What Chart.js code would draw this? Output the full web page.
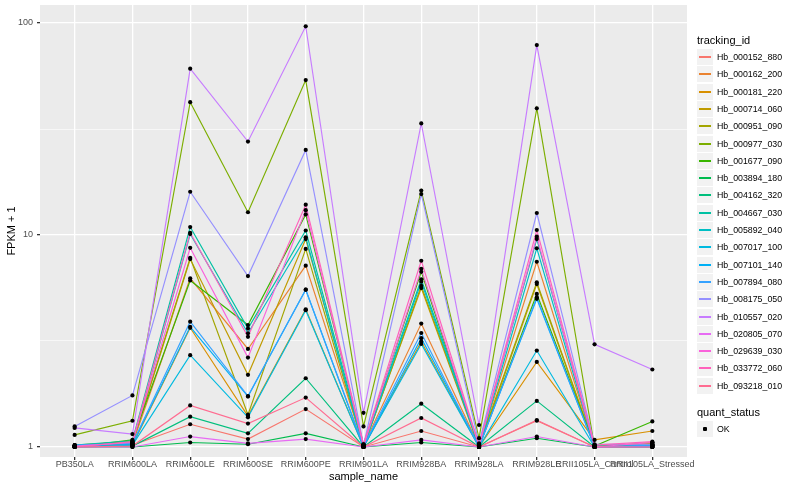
<!DOCTYPE html>
<html>
<head>
<meta charset="utf-8">
<script src="https://cdn.jsdelivr.net/npm/chart.js@4.4.0/dist/chart.umd.min.js"></script>
<style>
body { margin: 0; background: #fff; font-family: "Liberation Sans", Arial, sans-serif; }
#wrap { position: relative; width: 800px; height: 500px; }
#legend { position: absolute; left: 697px; top: 0; width: 103px; height: 500px; color: #000; }
#legend .lt { position: absolute; left: 0; height: 18px; line-height: 18px; font-size: 11px; }
#legend .row { position: absolute; left: 0; height: 17px; line-height: 17px; font-size: 8.8px; white-space: nowrap; }
#legend .key { display: inline-block; width: 16px; height: 16px; background: #F2F2F2; vertical-align: top; margin: 0 4px 0 0; position: relative; }
#legend .key i { position: absolute; left: 2px; width: 12px; top: 7px; height: 2px; }
#legend .key b { position: absolute; left: 6px; top: 6px; width: 4px; height: 4px; background: #000; border-radius: 1px; }
</style>
</head>
<body>
<div id="wrap">
  <canvas id="myChart" width="800" height="500"></canvas>
  <div id="legend"></div>
</div>
<script>
var samples = ['PB350LA', 'RRIM600LA', 'RRIM600LE', 'RRIM600SE', 'RRIM600PE', 'RRIM901LA',
               'RRIM928BA', 'RRIM928LA', 'RRIM928LE', 'RRII105LA_Control', 'RRII105LA_Stressed'];

var trackingIds = ['Hb_000152_880', 'Hb_000162_200', 'Hb_000181_220', 'Hb_000714_060', 'Hb_000951_090',
                   'Hb_000977_030', 'Hb_001677_090', 'Hb_003894_180', 'Hb_004162_320', 'Hb_004667_030',
                   'Hb_005892_040', 'Hb_007017_100', 'Hb_007101_140', 'Hb_007894_080', 'Hb_008175_050',
                   'Hb_010557_020', 'Hb_020805_070', 'Hb_029639_030', 'Hb_033772_060', 'Hb_093218_010'];

var colors = ['#F8766D', '#EA8331', '#D89000', '#C09B00', '#A3A500', '#7CAE00', '#39B600', '#00BB4E',
              '#00BF7D', '#00C1A3', '#00BFC4', '#00BAE0', '#00B0F6', '#35A2FF', '#9590FF', '#C77CFF',
              '#E76BF3', '#FA62DB', '#FF62BC', '#FF6C91'];

// FPKM + 1, one value per sample
var hb_000152_880 = [1.00, 1.02, 1.28, 1.09, 1.51, 1.00, 1.19, 1.00, 1.33, 1.00, 1.03];
var hb_000162_200 = [1.01, 1.03, 6.25, 2.90, 7.17, 1.02, 3.82, 1.01, 7.48, 1.00, 1.02];
var hb_000181_220 = [1.01, 1.02, 3.65, 1.40, 4.46, 1.00, 3.14, 1.00, 2.52, 1.08, 1.19];
var hb_000714_060 = [1.00, 1.04, 7.70, 2.19, 9.57, 1.01, 5.62, 1.00, 5.87, 1.00, 1.05];
var hb_000951_090 = [1.02, 1.06, 7.80, 1.42, 8.60, 1.00, 5.75, 1.02, 5.98, 1.01, 1.04];
var hb_000977_030 = [1.14, 1.33, 42.3, 12.8, 53.8, 1.25, 16.2, 1.10, 39.6, 1.00, 1.00];
var hb_001677_090 = [1.00, 1.08, 6.10, 3.76, 12.5, 1.03, 6.70, 1.00, 5.27, 1.01, 1.32];
var hb_003894_180 = [1.00, 1.00, 1.05, 1.03, 1.16, 1.00, 1.05, 1.00, 1.10, 1.00, 1.00];
var hb_004162_320 = [1.00, 1.01, 1.39, 1.16, 2.11, 1.00, 1.60, 1.00, 1.65, 1.00, 1.00];
var hb_004667_030 = [1.02, 1.07, 10.9, 3.62, 10.5, 1.02, 6.18, 1.03, 9.57, 1.02, 1.02];
var hb_005892_040 = [1.01, 1.05, 10.1, 3.44, 9.76, 1.00, 6.02, 1.00, 8.66, 1.00, 1.01];
var hb_007017_100 = [1.00, 1.02, 2.71, 1.38, 4.42, 1.00, 3.06, 1.00, 2.85, 1.00, 1.00];
var hb_007101_140 = [1.01, 1.03, 3.69, 1.73, 5.52, 1.00, 3.26, 1.01, 5.00, 1.00, 1.01];
var hb_007894_080 = [1.02, 1.04, 3.90, 1.74, 5.52, 1.01, 3.45, 1.00, 5.08, 1.00, 1.02];
var hb_008175_050 = [1.25, 1.75, 16.0, 6.40, 25.2, 1.02, 15.6, 1.04, 12.7, 1.03, 1.03];
var hb_010557_020 = [1.23, 1.15, 60.9, 27.6, 96.5, 1.45, 33.6, 1.27, 78.7, 3.05, 2.32];
var hb_020805_070 = [1.00, 1.00, 1.12, 1.04, 1.09, 1.00, 1.08, 1.00, 1.12, 1.00, 1.00];
var hb_029639_030 = [1.01, 1.05, 8.70, 2.64, 13.1, 1.01, 6.93, 1.01, 9.82, 1.00, 1.05];
var hb_033772_060 = [1.00, 1.06, 10.25, 3.31, 13.9, 1.03, 7.56, 1.02, 10.56, 1.02, 1.06];
var hb_093218_010 = [1.00, 1.01, 1.57, 1.29, 1.71, 1.00, 1.37, 1.00, 1.34, 1.00, 1.00];

var series = [hb_000152_880, hb_000162_200, hb_000181_220, hb_000714_060, hb_000951_090,
              hb_000977_030, hb_001677_090, hb_003894_180, hb_004162_320, hb_004667_030,
              hb_005892_040, hb_007017_100, hb_007101_140, hb_007894_080, hb_008175_050,
              hb_010557_020, hb_020805_070, hb_029639_030, hb_033772_060, hb_093218_010];

var yMajorTicks = [1, 10, 100];
var yMinorTicks = [3.1623, 31.623];

function isMajor(v) {
    return yMajorTicks.indexOf(v) >= 0;
}

var datasets = [];
var points = [];
for (var s = 0; s < series.length; s++) {
    var d = [];
    for (var i = 0; i < samples.length; i++) {
        d.push({x: i, y: series[s][i]});
        points.push({x: i, y: series[s][i]});
    }
    datasets.push({
        label: trackingIds[s],
        data: d,
        borderColor: colors[s],
        borderWidth: 1.15,
        pointRadius: 0,
        tension: 0,
        order: 100 - s
    });
}
datasets.push({
    label: 'OK',
    data: points,
    showLine: false,
    pointStyle: 'circle',
    pointRadius: 2.1,
    pointBorderWidth: 0,
    pointBackgroundColor: '#000',
    order: 0
});

var panelBg = {
    id: 'panelBg',
    beforeDraw: function (chart) {
        var a = chart.chartArea, ctx = chart.ctx;
        ctx.save();
        ctx.fillStyle = '#fff';
        ctx.fillRect(0, 0, chart.width, chart.height);
        ctx.fillStyle = '#EBEBEB';
        ctx.fillRect(a.left, a.top, a.right - a.left, a.bottom - a.top);
        ctx.restore();
    }
};

new Chart(document.getElementById('myChart'), {
    type: 'line',
    data: {datasets: datasets},
    plugins: [panelBg],
    options: {
        responsive: false,
        animation: false,
        layout: {padding: {top: 5, right: 113, left: 0, bottom: 0}},
        plugins: {legend: {display: false}, tooltip: {enabled: false}},
        scales: {
            x: {
                type: 'linear',
                min: -0.6,
                max: 10.6,
                afterBuildTicks: function (scale) {
                    scale.ticks = samples.map(function (n, i) { return {value: i}; });
                },
                afterFit: function (scale) { scale.height = 43; },
                ticks: {
                    autoSkip: false, maxRotation: 0, minRotation: 0, padding: -1,
                    color: '#4D4D4D', font: {family: 'Liberation Sans', size: 9},
                    callback: function (v) { return samples[v]; }
                },
                grid: {color: '#fff', lineWidth: 1.3, tickLength: 3, tickColor: '#333'},
                border: {display: false},
                title: {
                    display: true, text: 'sample_name', color: '#000',
                    font: {family: 'Liberation Sans', size: 11}, padding: {top: 0, bottom: 16}
                }
            },
            y: {
                type: 'logarithmic',
                min: 0.897,
                max: 121.6,
                afterBuildTicks: function (scale) {
                    scale.ticks = yMajorTicks.concat(yMinorTicks).sort(function (a, b) { return a - b; })
                        .map(function (v) { return {value: v}; });
                },
                afterFit: function (scale) {
                    scale.width = 40;
                    scale.paddingTop = 0;
                    scale.paddingBottom = 0;
                },
                ticks: {
                    autoSkip: false, padding: 4, color: '#4D4D4D',
                    font: {family: 'Liberation Sans', size: 9},
                    callback: function (v) { return isMajor(v) ? String(v) : ''; }
                },
                grid: {
                    color: '#fff',
                    lineWidth: function (c) { return c.tick && isMajor(c.tick.value) ? 1.3 : 0.6; },
                    tickLength: 3,
                    tickColor: function (c) { return c.tick && isMajor(c.tick.value) ? '#333' : 'rgba(0,0,0,0)'; }
                },
                border: {display: false},
                title: {
                    display: true, text: 'FPKM + 1', color: '#000',
                    font: {family: 'Liberation Sans', size: 11}, padding: {top: 5, bottom: 0}
                }
            }
        }
    }
});

var html = '<div class="lt" style="top:31px">tracking_id</div>';
for (var k = 0; k < trackingIds.length; k++) {
    html += '<div class="row" style="top:' + (49 + Math.round(k * 17.3)) + 'px"><span class="key"><i style="background:' +
        colors[k] + '"></i></span>' + trackingIds[k] + '</div>';
}
html += '<div class="lt" style="top:403px">quant_status</div>';
html += '<div class="row" style="top:421px"><span class="key"><b></b></span>OK</div>';
document.getElementById('legend').innerHTML = html;
</script>
</body>
</html>
